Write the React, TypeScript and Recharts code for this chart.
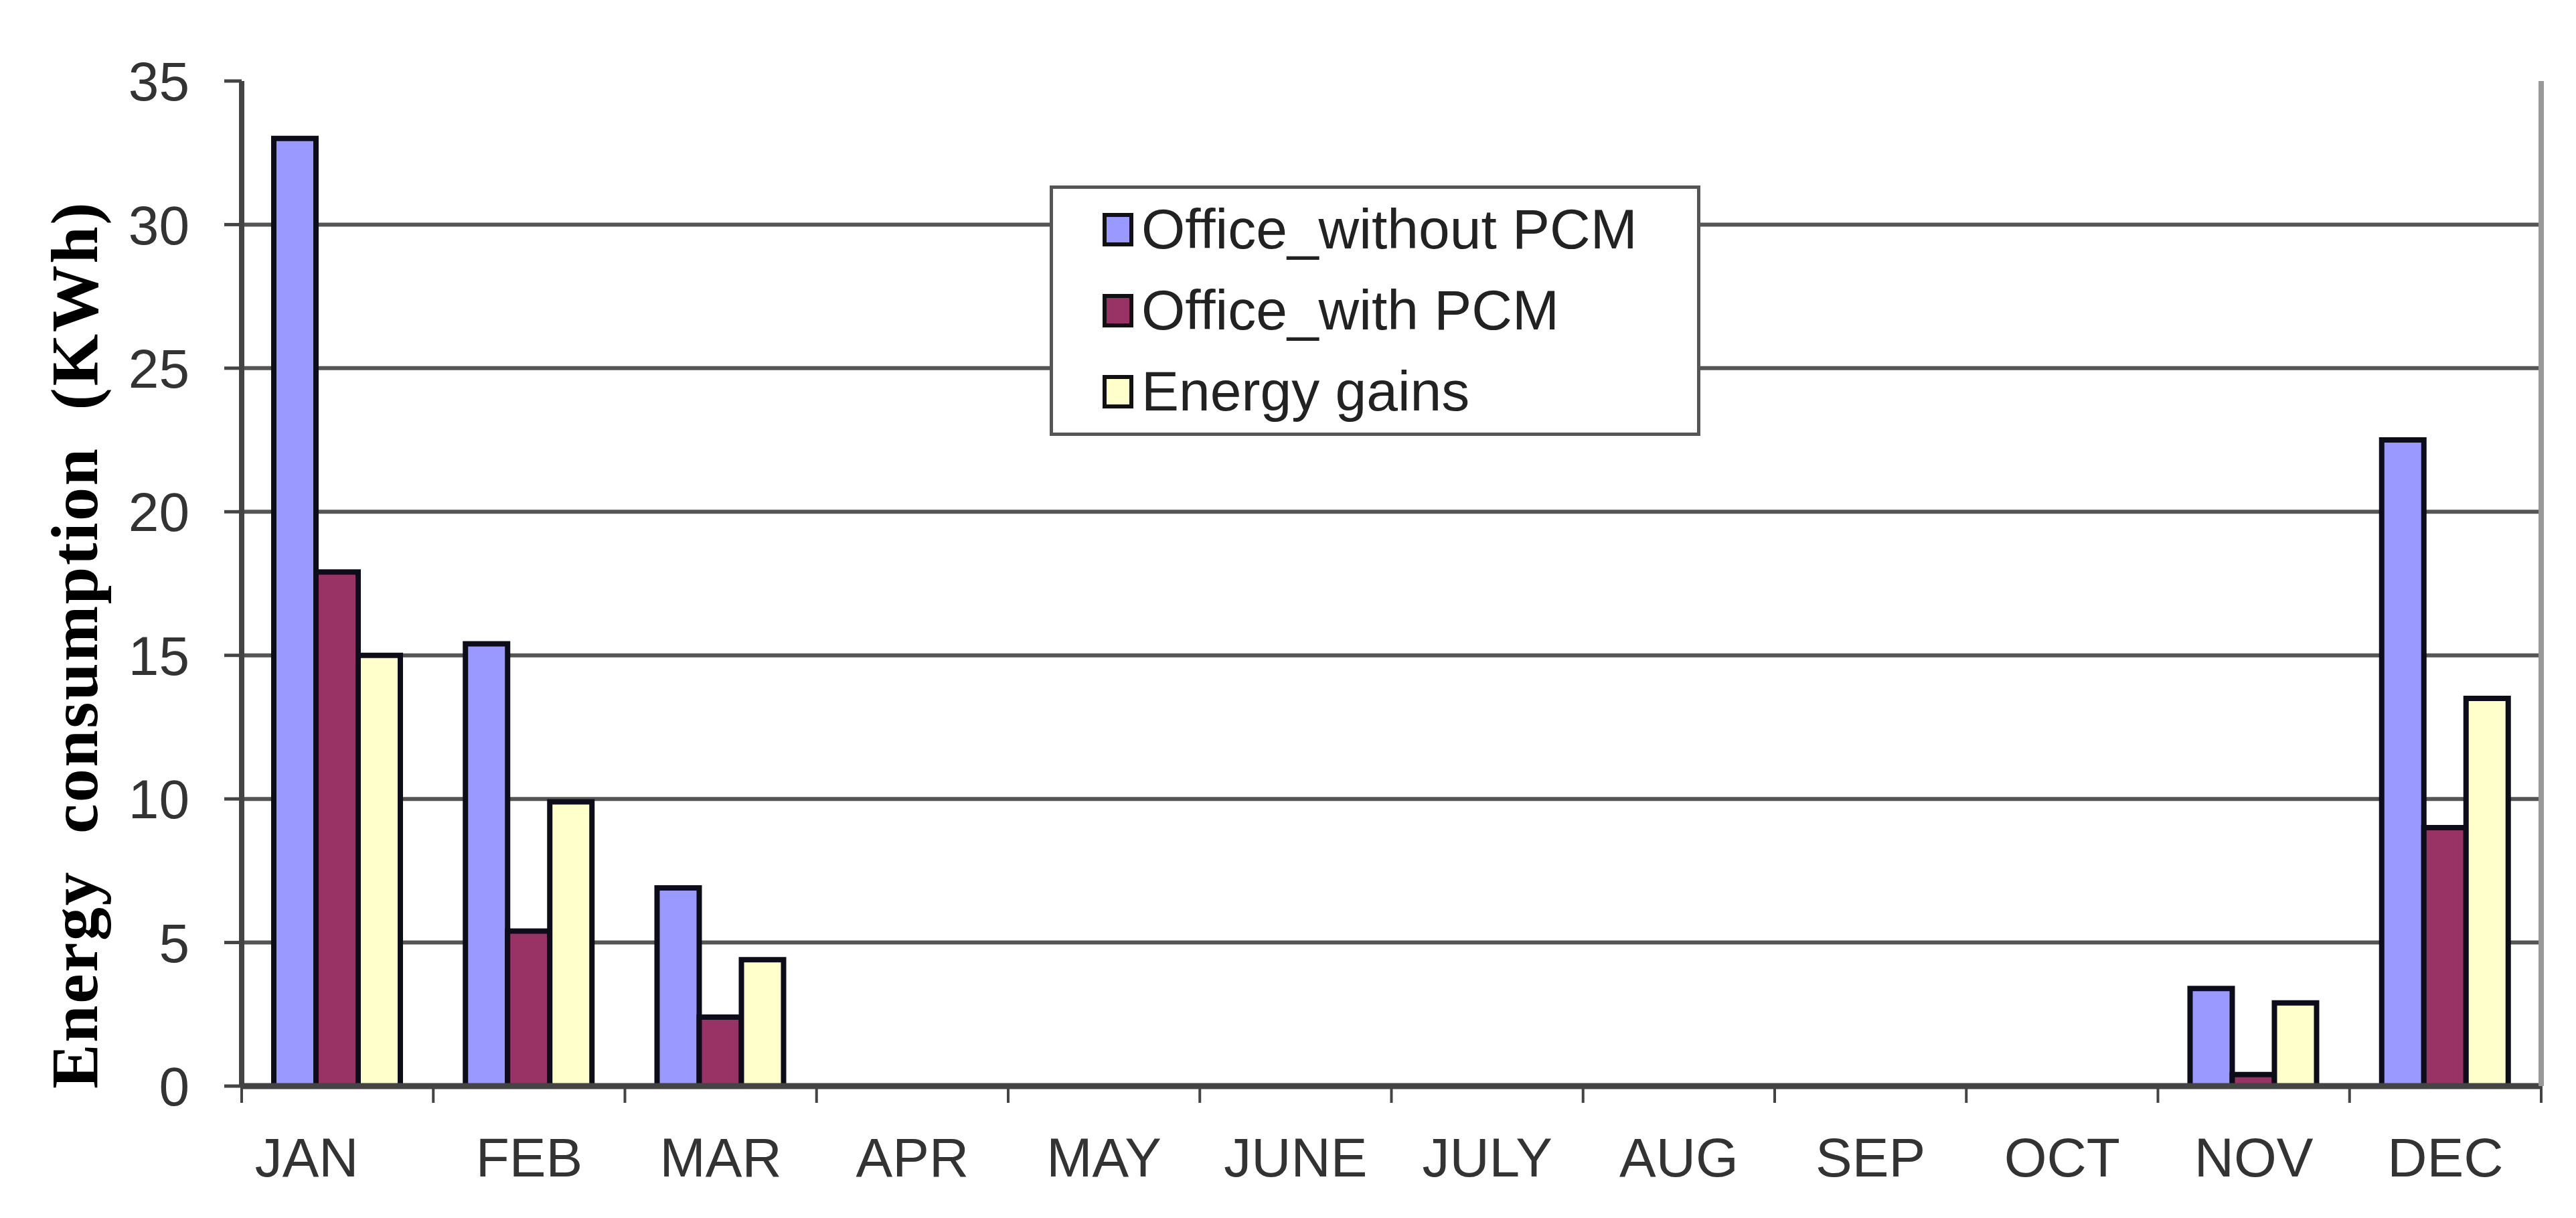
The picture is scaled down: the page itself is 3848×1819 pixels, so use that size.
import { BarChart, Bar, XAxis, YAxis, CartesianGrid, Legend } from 'recharts';

// page reset so the chart sits at 0,0
document.body.style.margin = '0';
document.body.style.background = '#ffffff';

const MONTHS = ['JAN', 'FEB', 'MAR', 'APR', 'MAY', 'JUNE', 'JULY', 'AUG', 'SEP', 'OCT', 'NOV', 'DEC'];
const WITHOUT_PCM = [33, 15.4, 6.9, 0, 0, 0, 0, 0, 0, 0, 3.4, 22.5];
const WITH_PCM = [17.9, 5.4, 2.4, 0, 0, 0, 0, 0, 0, 0, 0.4, 9];
const ENERGY_GAINS = [15, 9.9, 4.4, 0, 0, 0, 0, 0, 0, 0, 2.9, 13.5];
const Y_TICKS = [0, 5, 10, 15, 20, 25, 30, 35];
// inner gridlines only; the top edge is drawn as a lighter frame line
const GRID_VALUES = [5, 10, 15, 20, 25, 30];

const SERIES = [
  { key: 'without', name: 'Office_without PCM', color: '#9999ff' },
  { key: 'with', name: 'Office_with PCM', color: '#993366' },
  { key: 'gains', name: 'Energy gains', color: '#ffffcc' },
];

const data = MONTHS.map((month, i) => ({
  month,
  without: WITHOUT_PCM[i],
  with: WITH_PCM[i],
  gains: ENERGY_GAINS[i],
}));

const WIDTH = 3848;
const HEIGHT = 1819;
const MARGIN = { top: 121, right: 48, left: 0, bottom: 0 };
const Y_AXIS_W = 361;
const RIGHT_W = 4;
const PLOT_W = WIDTH - MARGIN.right - RIGHT_W - Y_AXIS_W;
const SANS = '"Liberation Sans", Arial, sans-serif';

function MonthTick(props: any) {
  const { x, y, payload, index } = props;
  const band = PLOT_W / MONTHS.length;
  // the first label sits a little left of its slot in the original
  const dx = index === 0 ? -46 : 0;
  return (
    <g>
      <line x1={x - band / 2} y1={y} x2={x - band / 2} y2={y + 25} stroke="#444" strokeWidth={4} />
      {index === MONTHS.length - 1 && (
        <line x1={x + band / 2} y1={y} x2={x + band / 2} y2={y + 25} stroke="#444" strokeWidth={4} />
      )}
      <text x={x + dx} y={y + 135} textAnchor="middle" fill="#333" fontSize={82} fontFamily={SANS}>
        {payload.value}
      </text>
    </g>
  );
}

function AxisTitle() {
  return (
    <text
      x={145}
      y={963}
      transform="rotate(-90 145 963)"
      textAnchor="middle"
      fontFamily='"Liberation Serif", "Times New Roman", serif'
      fontWeight="bold"
      fontSize={100}
      letterSpacing={2.5}
      fill="#000"
      style={{ whiteSpace: 'pre' }}
    >
      {'Energy  consumption  (KWh)'}
    </text>
  );
}

function LegendBox() {
  return (
    <div
      style={{
        boxSizing: 'border-box',
        width: 972,
        height: 374,
        border: '5px solid #555',
        background: '#fff',
        fontFamily: SANS,
      }}
    >
      {SERIES.map((s) => (
        <div key={s.key} style={{ display: 'flex', alignItems: 'center', height: 121, paddingLeft: 74 }}>
          <span
            style={{
              boxSizing: 'border-box',
              width: 46,
              height: 50,
              border: '6px solid #111',
              background: s.color,
              marginRight: 12,
              display: 'inline-block',
            }}
          />
          <span style={{ fontSize: 84, color: '#222' }}>{s.name}</span>
        </div>
      ))}
    </div>
  );
}

export default function App() {
  return (
    <BarChart width={WIDTH} height={HEIGHT} data={data} margin={MARGIN} barCategoryGap={48} barGap={0}>
      <CartesianGrid vertical={false} horizontalValues={GRID_VALUES} stroke="#555" strokeWidth={6} />
      <XAxis
        dataKey="month"
        height={HEIGHT - 1622}
        tick={<MonthTick />}
        tickLine={false}
        tickSize={0}
        tickMargin={0}
        interval={0}
        axisLine={{ stroke: '#444', strokeWidth: 9 }}
      />
      <XAxis xAxisId="top" dataKey="month" orientation="top" height={0} tick={false} tickLine={false} axisLine={{ stroke: '#999', strokeWidth: 8 }} />
      <YAxis
        domain={[0, 35]}
        ticks={Y_TICKS}
        width={Y_AXIS_W}
        tickSize={26}
        tickMargin={52}
        tickLine={{ stroke: '#444', strokeWidth: 5 }}
        axisLine={{ stroke: '#444', strokeWidth: 8 }}
        tick={{ fontSize: 82, fill: '#333', fontFamily: SANS }}
        label={<AxisTitle />}
      />
      <YAxis yAxisId="right" orientation="right" width={RIGHT_W} domain={[0, 35]} tick={false} tickLine={false} axisLine={{ stroke: '#999', strokeWidth: 8 }} />
      <Legend
        layout="vertical"
        align="center"
        verticalAlign="middle"
        content={<LegendBox />}
        wrapperStyle={{ left: 1568, top: 277, width: 972, height: 374 }}
      />
      {SERIES.map((s) => (
        <Bar
          key={s.key}
          dataKey={s.key}
          name={s.name}
          fill={s.color}
          stroke="#0d0d1a"
          strokeWidth={8}
          isAnimationActive={false}
        />
      ))}
    </BarChart>
  );
}
